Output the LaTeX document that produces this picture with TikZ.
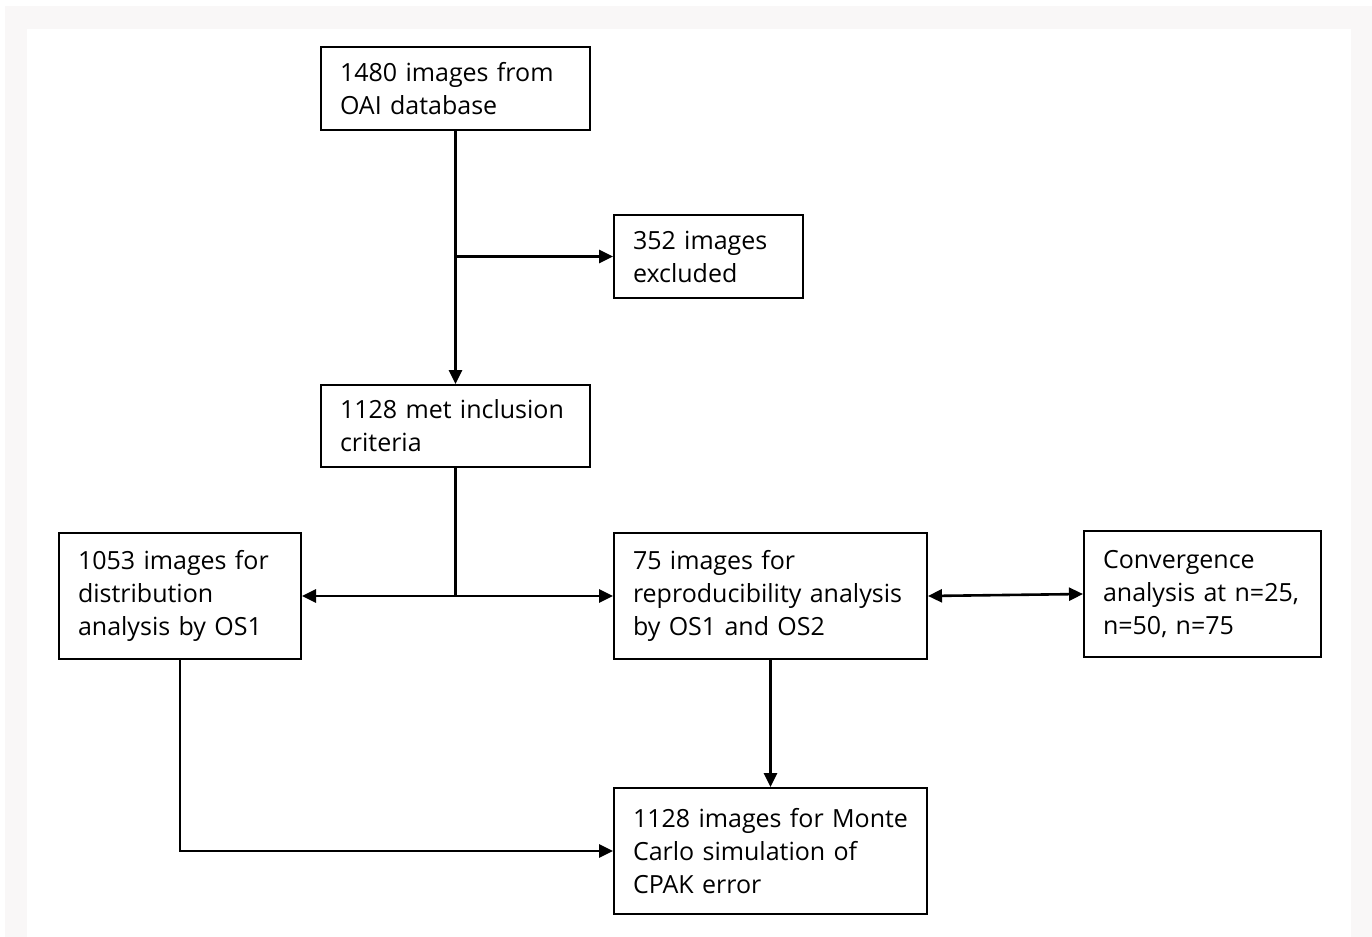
\documentclass[tikz,border=0pt]{standalone}
\usepackage{fontspec}
\setmainfont{Open Sans}
\usetikzlibrary{arrows.meta,positioning,calc}

\definecolor{pagegrey}{HTML}{F9F7F7}

\tikzset{
  box/.style={draw, line width=1pt, align=left, inner xsep=9.5pt, inner ysep=0pt,
    text width=#1, font=\fontsize{12.5}{16.5}\selectfont},
  flow/.style={line width=1.3pt, -{Triangle[length=7pt,width=6.5pt]}},
  twoway/.style={line width=1.3pt, {Triangle[length=7pt,width=6.5pt]}-{Triangle[length=7pt,width=6.5pt]}}
}

\begin{document}
\begin{tikzpicture}[x=0.5pt, y=-0.5pt]
    % page and panel
    \useasboundingbox (0,0) rectangle (1372,937);
    \fill[pagegrey] (5,6) rectangle (1372,937);
    \fill[white] (27,29) rectangle (1351,937);

    % Boxes
    \node[box=115.5pt, minimum height=41.5pt] (oai) at (455.5,88.5) {1480 images from\\OAI database};
    \node[box=75.5pt, minimum height=41.5pt] (excl) at (708.5,256.5) {352 images\\excluded};
    \node[box=115.5pt, minimum height=41pt] (incl) at (455.5,426) {1128 met inclusion\\criteria};
    \node[box=102pt, minimum height=63pt] (dist) at (180,596) {1053 images for\\distribution\\analysis by OS1};
    \node[box=137.5pt, minimum height=63pt] (repro) at (770.5,596) {75 images for\\reproducibility analysis\\by OS1 and OS2};
    \node[box=99.5pt, minimum height=63pt] (conv) at (1202.5,594) {Convergence\\analysis at n=25,\\n=50, n=75};
    \node[box=137.5pt, minimum height=63pt] (mc) at (770.5,851) {1128 images for Monte\\Carlo simulation of\\CPAK error};

    % Exclusion branch
    \coordinate (excl split) at (oai.south |- excl.west);
    \draw[flow] (oai.south) -- (incl.north);
    \draw[flow] (excl split) -- (excl.west);

    % Split into the two analyses
    \coordinate (ana split) at (incl.south |- dist.east);
    \draw[line width=1.3pt] (incl.south) -- (ana split);
    \draw[flow] (ana split) -- (dist.east);
    \draw[flow] (ana split) -- (repro.west);
    \draw[twoway] (repro.east) -- (conv.west);

    % Into the simulation
    \draw[flow] (repro.south) -- (mc.north);
    \draw[flow] (dist.south) |- (mc.west);
\end{tikzpicture}
\end{document}
